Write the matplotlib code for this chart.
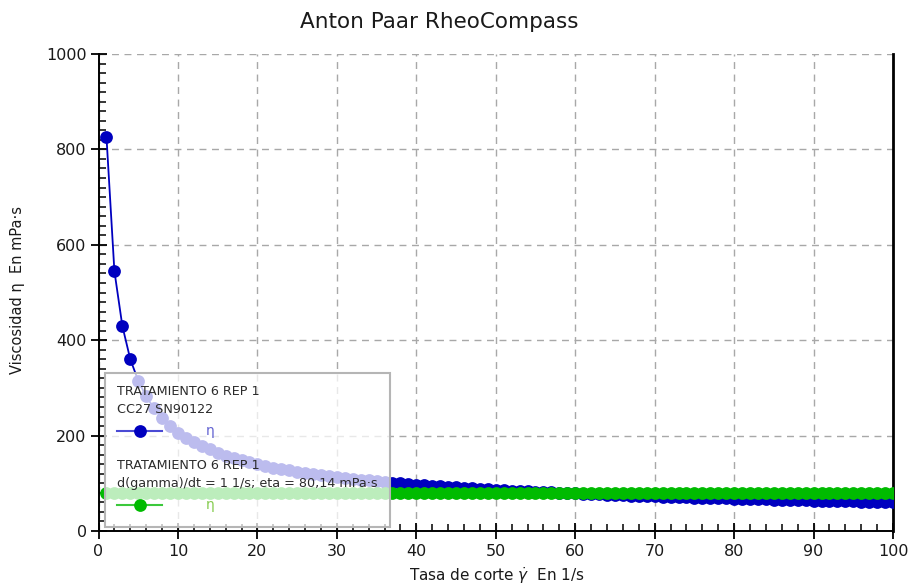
import numpy as np
import matplotlib
matplotlib.use("Agg")
import matplotlib.pyplot as plt
from matplotlib.patches import Rectangle
from matplotlib.lines import Line2D

plt.rcParams['font.family'] = ['DejaVu Sans']
plt.rcParams['mathtext.fontset'] = 'dejavusans'

# Shear-rate ramp (1/s) and measured viscosity (mPa·s)
shear_rate = np.arange(1, 101)
viscosity = [
    827, 545, 430, 360, 315, 282, 257, 237, 220, 206,
    195, 186, 178, 171, 164, 158, 153, 148, 144, 140,
    136, 133, 130, 127, 124, 122, 119, 117, 115, 113,
    111, 109, 107, 106, 104, 103, 101, 100, 98, 97,
    95.8, 94.6, 93.4, 92.3, 91.2, 90.2, 89.2, 88.2, 87.3, 86.4,
    85.5, 84.6, 83.8, 83.0, 82.2, 81.4, 80.7, 80.0, 79.3, 78.6,
    77.9, 77.2, 76.6, 76.0, 75.4, 74.8, 74.2, 73.6, 73.1, 72.5,
    72.0, 71.4, 70.9, 70.4, 70.0, 69.5, 69.0, 68.5, 68.1, 67.6,
    67.2, 66.8, 66.4, 66.0, 65.5, 65.1, 64.8, 64.4, 64.0, 63.6,
    63.3, 62.9, 62.6, 62.2, 61.9, 61.5, 61.2, 60.9, 60.6, 60.2,
]
# Reference viscosity at d(gamma)/dt = 1 1/s
eta_ref = 80.14
reference = np.full(len(shear_rate), eta_ref)

series_title = "TRATAMIENTO 6 REP 1"
series_info = ["CC27 SN90122",
               "d(gamma)/dt = 1 1/s; eta = 80,14 mPa·s"]

x_ticks = list(range(0, 101, 10))
y_ticks = list(range(0, 1001, 200))

blue = '#0000bf'
green = '#00bb00'

fig = plt.figure(figsize=(9.18, 5.86), dpi=100)
ax = fig.add_axes([0.1073, 0.0939, 0.8655, 0.8139])

ax.plot(shear_rate, viscosity, color=blue, lw=1.3, marker='o', ms=9.2,
        mec=blue, mfc=blue, mew=0, zorder=3, clip_on=True)
ax.plot(shear_rate, reference, color=green, lw=1.3, marker='o', ms=9.2,
        mec=green, mfc=green, mew=0, zorder=3.1, clip_on=True)

ax.set_xlim(0, 100)
ax.set_ylim(0, 1000)
ax.set_xticks(x_ticks)
ax.set_yticks(y_ticks)
ax.set_xticks(np.arange(0, 101, 2), minor=True)
ax.set_yticks(np.arange(0, 1001, 20), minor=True)
ax.tick_params(which='major', direction='inout', length=11, width=1.3,
               labelsize=11.5, color='black', labelcolor='#1a1a1a')
ax.tick_params(axis='y', which='major', pad=3)
ax.tick_params(axis='x', which='major', pad=4)
ax.tick_params(which='minor', direction='in', length=5, width=1.1, color='black')
ax.tick_params(top=False, right=False, which='both')

ax.grid(True, which='major', color='#a8a8a8', linestyle=(0, (5, 4)), linewidth=1.0, zorder=0)
ax.set_axisbelow(True)
for side in ('left', 'bottom', 'right'):
    ax.spines[side].set_color('black')
    ax.spines[side].set_linewidth(1.4)
ax.spines['right'].set_linewidth(2.0)
ax.spines['top'].set_visible(False)

fig.text(0.479, 0.962, "Anton Paar RheoCompass", ha='center', va='center',
         fontsize=15.5, color='#1a1a1a')
fig.text(0.541, 0.018, r"Tasa de corte $\dot{\gamma}$  En 1/s", ha='center', va='center',
         fontsize=11, color='#1a1a1a')
fig.text(0.0196, 0.505, "Viscosidad \u03b7  En mPa·s", ha='center', va='center',
         rotation=90, fontsize=10.5, color='#1a1a1a')

# Semi-transparent legend panel on top of the data
ax.add_patch(Rectangle((0.0082, 0.0084), 0.3587, 0.3228, transform=ax.transAxes,
                       facecolor='white', alpha=0.74, edgecolor='none', zorder=5,
                       clip_on=False))
ax.add_patch(Rectangle((0.0082, 0.0084), 0.3587, 0.3228, transform=ax.transAxes,
                       facecolor='none', edgecolor='#b5b5b5', lw=1.5, zorder=5.1,
                       clip_on=False))

tx = 0.0229
groups = [
    (0.292, 0.2537, 0.2103, series_info[0], blue, '#4a4ad4', '#6464d2'),
    (0.1363, 0.0985, 0.0545, series_info[1], green, '#3cc83c', '#86cc50'),
]
for y1, y2, yh, info, mcol, lcol, tcol in groups:
    ax.text(tx, y1, series_title, transform=ax.transAxes, fontsize=9.2,
            color='#2b2b2b', va='center', ha='left', zorder=6)
    ax.text(tx, y2, info, transform=ax.transAxes, fontsize=9.2,
            color='#2b2b2b', va='center', ha='left', zorder=6)
    ax.add_line(Line2D([0.0229, 0.0795], [yh, yh], transform=ax.transAxes,
                       color=lcol, lw=1.5, zorder=6, clip_on=False))
    ax.add_line(Line2D([0.0522], [yh], transform=ax.transAxes, marker='o',
                       ms=9.2, mfc=mcol, mec=mcol, mew=0, zorder=6.1, clip_on=False))
    ax.text(0.1353, yh, "\u03b7", transform=ax.transAxes, fontsize=10,
            color=tcol, va='center', ha='left', zorder=6)

fig.savefig("out.png", dpi=100)
